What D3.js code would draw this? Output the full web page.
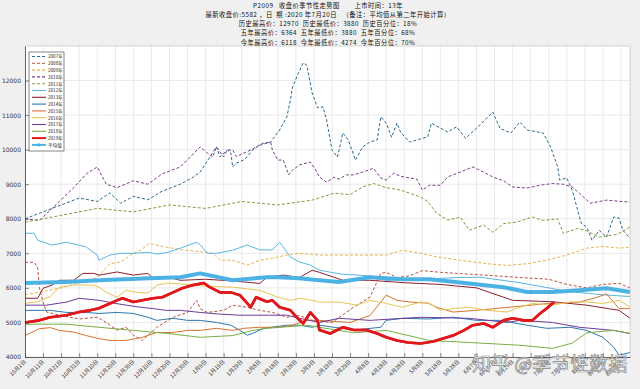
<!DOCTYPE html>
<html><head><meta charset="utf-8">
<script src="https://cdn.jsdelivr.net/npm/d3@7"></script>
<style>
html,body{margin:0;padding:0;background:#f0f0f0;}
svg{display:block;}
</style></head>
<body>
<svg id="c" width="640" height="389"></svg>
<script>
// ---- DATA ----
const titleLines = [
  "P2009   收盘价季节性走势图        上市时间：13年",
  "最新收盘价:5582 ，日  期 :2020 年7月20日   （备注：平均值从第二年开始计算）",
  "历史最高价：12970  历史最低价：3880  历史百分位：18%",
  "五年最高价：6364  五年最低价：3880  五年百分位：68%",
  "今年最高价：6118  今年最低价：4274  今年百分位：70%"
];
const xTickLabels = ["10月1日","10月11日","10月21日","10月31日","11月10日","11月20日","11月30日","12月10日","12月20日","12月30日","1月9日","1月19日","1月29日","2月8日","2月18日","2月28日","3月9日","3月19日","3月29日","4月8日","4月18日","4月28日","5月8日","5月18日","5月28日","6月7日","6月17日","6月27日","7月7日","7月17日","7月27日","8月6日","8月16日","8月26日"];
const yTicks = [4000,5000,6000,7000,8000,9000,10000,11000,12000];

// [day since Oct 1, close]
const s2007 = [[0,8000],[10,8200],[20,8400],[30,8600],[40,8500],[47,8750],[53,8450],[60,8650],[68,8550],[76,8800],[86,9000],[93,9200],[97,9350],[106,10080],[108,9790],[112,9990],[114,9900],[115,9500],[117,9610],[121,9700],[123,9790],[126,9990],[130,10130],[134,10190],[136,10220],[141,10570],[145,10950],[147,11440],[148,11790],[151,12170],[154,12510],[156,12450],[159,11640],[162,11210],[165,11240],[167,10860],[170,9990],[173,9790],[176,10480],[179,10280],[183,9700],[187,10080],[191,10220],[195,10280],[197,10950],[200,10770],[203,10360],[206,10770],[208,10500],[213,10220],[223,10370],[225,10770],[234,10510],[239,10660],[244,10330],[252,10720],[259,11090],[263,10620],[269,10480],[274,10800],[278,10570],[287,10480],[291,10080],[295,9500],[296,9120],[300,9180],[303,8830],[308,7870],[311,7760],[314,7380],[318,7670],[322,7470],[326,8050],[329,8020],[331,7670],[335,7440]];
const s2008 = [[0,6740],[5,6740],[7,6600],[8,6000],[10,5580],[12,5300],[20,5200],[30,5100],[40,5150],[45,5000],[51,4780],[56,4860],[60,4630],[65,4480],[73,4860],[82,5150],[90,5290],[95,5640],[97,5400],[101,5290],[110,5350],[115,5500],[123,5440],[130,5350],[137,5290],[145,5150],[152,5200],[159,5060],[170,5000],[182,5440],[191,5730],[197,6420],[200,6450],[206,6300],[213,6350],[220,6500],[230,6450],[245,6400],[260,6350],[274,6300],[290,6250],[300,6100],[311,6000],[320,6100],[329,6130],[335,6000]];
const s2009 = [[0,5800],[20,6000],[40,6300],[47,6700],[53,6750],[60,7000],[64,7090],[69,7290],[76,7200],[87,7100],[97,7050],[104,7000],[108,6800],[115,6800],[123,6660],[130,6800],[137,6860],[145,6950],[152,7000],[163,6950],[182,6950],[200,6950],[209,7090],[219,7000],[228,6900],[241,6800],[256,6700],[267,6650],[278,6700],[289,6800],[300,6950],[311,7150],[320,7200],[329,7150],[335,7180]];
const s2010 = [[0,8000],[8,7950],[19,8500],[27,8900],[34,9300],[40,9500],[45,9000],[51,8900],[60,9100],[68,9000],[76,9300],[86,9500],[97,10080],[101,9900],[104,9790],[106,10080],[110,9790],[112,9990],[115,9990],[117,9800],[121,9900],[125,9990],[128,10080],[132,10190],[136,10220],[137,9990],[140,9700],[143,9700],[146,9270],[148,9400],[152,9560],[158,9640],[161,9410],[163,9210],[167,9060],[171,9200],[174,9150],[178,9270],[182,9270],[187,9350],[193,9460],[197,9180],[200,9120],[204,9320],[208,9230],[213,9180],[217,9150],[220,8830],[224,8970],[230,8970],[234,9210],[241,9350],[248,9500],[254,9350],[259,9210],[265,9100],[270,8920],[278,8890],[285,8970],[292,9020],[298,9000],[303,8920],[307,8740],[313,8450],[322,8540],[335,8480]];
const s2011 = [[0,7900],[20,8100],[40,8300],[60,8200],[80,8400],[100,8300],[120,8500],[140,8400],[159,8540],[171,8740],[180,8700],[187,8920],[193,9020],[200,8900],[208,8830],[219,8630],[223,8500],[228,8160],[234,7960],[241,8050],[246,7670],[254,7820],[259,7610],[265,7860],[272,7900],[281,8050],[287,7950],[295,8000],[298,7580],[306,7720],[311,7650],[318,7470],[328,7550],[335,7760]];
const s2012 = [[0,7580],[5,7580],[7,7380],[12,7290],[15,7240],[23,7320],[29,7250],[34,7180],[40,6950],[41,6800],[47,6950],[53,7000],[60,7000],[68,7030],[73,6980],[79,7030],[86,7150],[95,7320],[97,7250],[101,7000],[106,7000],[115,7090],[123,7240],[130,7100],[137,7100],[141,7320],[147,6890],[152,6750],[158,6660],[163,6510],[175,6400],[190,6350],[200,6220],[219,6250],[240,6300],[252,6310],[267,6200],[274,6150],[290,6000],[300,5900],[320,5800],[335,5750]];
const s2013 = [[0,5700],[7,5700],[10,5990],[15,6080],[19,6220],[27,6220],[32,6420],[38,6420],[41,6370],[51,6460],[60,6370],[68,6420],[71,6280],[79,6310],[86,6220],[100,6250],[115,6200],[130,6130],[134,6310],[143,6370],[152,6300],[159,6510],[163,6450],[176,6220],[191,6220],[210,6150],[230,6100],[250,6000],[270,5640],[292,5600],[311,5500],[329,5350],[335,5120]];
const s2014 = [[0,5350],[14,5350],[23,5290],[34,5290],[41,5260],[51,5290],[60,5260],[68,5150],[73,5060],[82,5120],[90,5060],[97,5060],[106,5000],[114,4920],[119,4770],[123,4630],[126,4680],[132,4830],[145,4920],[152,4920],[159,4860],[163,4920],[182,4780],[197,4860],[200,5060],[209,5120],[224,5100],[237,5150],[250,5060],[263,5060],[278,4920],[289,4830],[302,4860],[311,4770],[320,4570],[326,4280],[329,4050],[335,4130]];
const s2015 = [[0,4620],[8,4820],[14,4850],[19,4770],[27,4720],[34,4620],[40,4540],[47,4480],[56,4480],[65,4570],[73,4710],[82,4710],[90,4770],[97,4770],[106,4830],[115,4770],[121,4830],[130,4860],[140,4860],[148,4920],[156,5060],[163,5060],[180,5000],[191,5200],[200,5790],[206,5640],[213,5590],[223,5560],[228,5440],[237,5300],[250,5350],[270,5450],[290,5550],[307,5590],[317,5730],[322,5830],[329,5400],[335,5400]];
const s2016 = [[0,5550],[7,5600],[14,5750],[19,6020],[27,6080],[32,6080],[38,6080],[41,6020],[45,5870],[51,5730],[56,5930],[62,5870],[68,5850],[73,6080],[79,6140],[90,6100],[100,6050],[115,6020],[130,5930],[140,5730],[147,5640],[152,5700],[159,5640],[163,5590],[174,5590],[184,5500],[191,5640],[200,5550],[209,5440],[219,5590],[224,5550],[230,5350],[237,5400],[246,5440],[256,5350],[267,5300],[274,5440],[281,5550],[292,5500],[302,5590],[311,5590],[320,5550],[329,5640],[335,5450]];
const s2017 = [[0,5500],[12,5500],[23,5590],[30,5700],[41,5640],[49,5560],[56,5500],[64,5440],[71,5400],[78,5350],[86,5350],[97,5290],[108,5240],[119,5210],[134,5210],[145,5210],[152,5120],[163,5000],[174,5120],[191,5060],[219,5150],[246,5120],[267,5000],[274,5060],[292,5000],[307,4860],[326,4770],[335,4680]];
const s2018 = [[0,4950],[23,4950],[41,4860],[60,4770],[79,4680],[97,4570],[115,4620],[126,4770],[134,4830],[156,4920],[163,4860],[182,4700],[200,4770],[224,4480],[246,4420],[274,4340],[292,4250],[303,4400],[311,4700],[326,4770],[335,4680]];
const s2019 = [[0,5000],[8,5060],[14,5150],[23,5210],[30,5300],[36,5350],[41,5410],[47,5550],[51,5640],[54,5700],[60,5590],[65,5640],[71,5700],[76,5730],[82,5870],[87,5990],[93,6080],[99,6140],[102,6030],[108,5870],[114,5870],[119,5790],[125,5440],[128,5730],[134,5600],[137,5640],[141,5440],[147,5350],[151,5120],[154,4970],[158,5290],[162,5060],[163,4780],[169,4680],[176,4860],[182,4780],[189,4780],[195,4680],[200,4570],[206,4480],[212,4420],[219,4390],[226,4450],[231,4530],[237,4620],[243,4770],[248,4920],[254,4970],[259,4860],[265,5060],[270,5120],[276,5060],[281,5060],[285,5250],[289,5410],[292,5550],[293,5582]];
const sAvg = [[0,6140],[23,6170],[41,6220],[69,6280],[86,6310],[97,6420],[115,6220],[134,6310],[140,6310],[152,6280],[163,6220],[174,6170],[191,6310],[209,6250],[224,6250],[246,6130],[265,6020],[278,5880],[292,5880],[307,5930],[322,5990],[335,5880]];

const seriesNames = ["2007年","2008年","2009年","2010年","2011年","2012年","2013年","2014年","2015年","2016年","2017年","2018年","2019年","平均值"];
const seriesData = [s2007,s2008,s2009,s2010,s2011,s2012,s2013,s2014,s2015,s2016,s2017,s2018,s2019,sAvg];
const seriesColors = ["#2b6a8c","#b5533f","#eeb04a","#7b3d8a","#7f9a3e","#5ab6e2","#8c1f30","#2a78b0","#d4742e","#e8c454","#6d3b98","#76b043","#e0181c","#4cb2e4"];
const seriesDash = ["3,2","3,2","3,2","3,2","3,2",null,null,null,null,null,null,null,null,null];
const seriesWidth = [1,1,1,1,1,1,1,1,1,1,1,1,2.6,4];

// ---- CHART ----
const svg = d3.select("#c");
const L=25, R=630, T=46, B=357;
const x = d3.scaleLinear().domain([0,335]).range([L,R]);
const y = d3.scaleLinear().domain([4000,13000]).range([B,T]);
const xTickVals = xTickLabels.map((d,i)=>i*10);

svg.append("rect").attr("width",640).attr("height",389).attr("fill","#f0f0f0");
svg.append("rect").attr("x",L).attr("y",T).attr("width",R-L).attr("height",B-T).attr("fill","#ffffff");

// grid
const g = svg.append("g");
g.selectAll(".vg").data(xTickVals).join("line")
  .attr("x1",d=>x(d)).attr("x2",d=>x(d)).attr("y1",T).attr("y2",B)
  .attr("stroke","#e4e4e4").attr("stroke-width",0.8);
g.selectAll(".hg").data(yTicks).join("line")
  .attr("x1",L).attr("x2",R).attr("y1",d=>y(d)).attr("y2",d=>y(d))
  .attr("stroke","#e4e4e4").attr("stroke-width",0.8);

// lines
const line = d3.line().x(d=>x(d[0])).y(d=>y(d[1]));
const lg = svg.append("g");
seriesData.forEach((data,i)=>{
  lg.append("path").datum(data).attr("d",line)
    .attr("fill","none").attr("stroke",seriesColors[i])
    .attr("stroke-width",seriesWidth[i])
    .attr("stroke-dasharray",seriesDash[i])
    .attr("stroke-linejoin","round");
});
lg.append("path").datum(s2019).attr("d",line).attr("fill","none")
  .attr("stroke",seriesColors[12]).attr("stroke-width",2.6).attr("stroke-linejoin","round");

// axes
const xAxis = d3.axisBottom(x).tickValues(xTickVals).tickFormat((d,i)=>xTickLabels[i]).tickSizeInner(-4).tickSizeOuter(0);
const ax = svg.append("g").attr("transform",`translate(0,${B})`).call(xAxis);
ax.select(".domain").attr("stroke","#404040").attr("stroke-width",0.8);
ax.selectAll(".tick line").attr("stroke","#404040").attr("stroke-width",0.6);
ax.selectAll(".tick text")
  .attr("font-family","Noto Sans CJK SC, sans-serif").attr("font-size",5.6).attr("fill","#303030")
  .attr("text-anchor","end").attr("dy",0).attr("y",0)
  .attr("transform","translate(1,5) rotate(-45)");

const yAxis = d3.axisLeft(y).tickValues(yTicks).tickFormat(d3.format("d")).tickSizeInner(-4).tickSizeOuter(0).tickPadding(4);
const ay = svg.append("g").attr("transform",`translate(${L},0)`).call(yAxis);
ay.select(".domain").attr("stroke","#404040").attr("stroke-width",0.8);
ay.selectAll(".tick line").attr("stroke","#404040").attr("stroke-width",0.6);
ay.selectAll(".tick text").attr("font-family","DejaVu Sans, sans-serif").attr("font-size",6).attr("fill","#303030");

svg.append("line").attr("x1",L).attr("x2",R).attr("y1",T).attr("y2",T).attr("stroke","#bdbdbd").attr("stroke-width",0.6);
svg.append("line").attr("x1",R).attr("x2",R).attr("y1",T).attr("y2",B).attr("stroke","#bdbdbd").attr("stroke-width",0.6);

// title
svg.append("g").selectAll("text").data(titleLines).join("text")
  .attr("x",328).attr("y",(d,i)=>7.5+i*9.3).attr("text-anchor","middle")
  .attr("font-family","Noto Sans CJK SC, sans-serif").attr("font-size",6.3)
  .attr("letter-spacing",0.45).attr("fill","#111")
  .style("white-space","pre").text(d=>d);

// legend
const leg = svg.append("g");
leg.append("rect").attr("x",29).attr("y",52).attr("width",35).attr("height",99)
  .attr("fill","#fff").attr("stroke","#333").attr("stroke-width",0.6);
seriesNames.forEach((n,i)=>{
  const yy = 56.5 + i*6.8;
  leg.append("line").attr("x1",32).attr("x2",46).attr("y1",yy).attr("y2",yy)
    .attr("stroke",seriesColors[i]).attr("stroke-width",i>=12?2:1.1)
    .attr("stroke-dasharray",seriesDash[i]);
  if(i===13) leg.append("circle").attr("cx",39).attr("cy",yy).attr("r",1.6).attr("fill",seriesColors[i]);
  leg.append("text").attr("x",48).attr("y",yy+1.8).attr("font-family","Noto Sans CJK SC, sans-serif")
    .attr("font-size",4.6).attr("fill","#222").text(n);
});

// watermark
svg.append("text").attr("x",472).attr("y",371)
  .attr("font-family","Noto Sans CJK SC, sans-serif").attr("font-size",19)
  .attr("fill","#ffffff").attr("fill-opacity",0.85).attr("stroke","#8a8a8a").attr("stroke-width",0.7)
  .style("white-space","pre").text("知乎 @季节性数据");
</script>
</body></html>
